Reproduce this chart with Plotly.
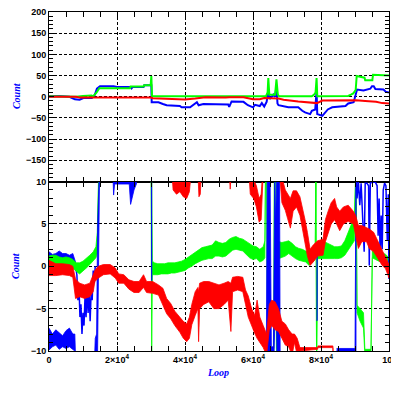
import plotly.graph_objects as go
from plotly.subplots import make_subplots

BLUE = "#0000FF"
GREEN = "#00FF00"
RED = "#FF0000"

# ---------------- top panel (Count, -200..200) ----------------
top_blue_loop = [0, 3000, 6000, 7600, 9000, 10100, 12600, 13500, 14100, 14500, 15000, 19000, 20000, 24000, 24300,
                 24600, 27800, 28000, 30100, 30200, 32200, 33500, 34600, 38500, 39000, 41500, 42500, 43500, 44000,
                 45400, 52700, 53000, 53700, 57200, 58500, 60000, 60600, 62000, 62600, 63300, 64000, 64500, 65000,
                 66000, 66500, 66900, 67200, 67500, 70400, 73300, 74500, 75300, 76800, 77300, 78300, 78700, 78900,
                 80400, 82000, 83300, 87200, 88000, 89600, 90300, 90600, 92500, 94500, 95000, 95500, 96000, 98400,
                 99000, 100000]
top_blue = [1, 2, 0, -6, -7, -3, -3, 5, 19, 22, 25, 25, 23, 23, 20,
            23, 23, 27, 27, -13, -13, -17, -20, -22, -25, -25, -18, -13, -20,
            -17, -18, -24, -11, -12, -20, -25, -19, -22, -15, -23, -12, 10, -5,
            5, 0, 26, -16, -20, -25, -25, -33, -37, -41, -33, -30, 14, -41,
            -45, -30, -25, -22, -16, -13, 14, 17, 15, 19, 25, 25, 18, 17,
            12, 10]

top_green_loop = [0, 5000, 8000, 10000, 12500, 13000, 14000, 14800, 23800, 24000, 27800, 28000, 29900, 30100, 30300,
                  63800, 64300, 64500, 64800, 66500, 66900, 67300, 67700, 77300, 78000, 78400, 78700, 78900, 88000,
                  88800, 89500, 90200, 90500, 92800, 93000, 95100, 95300, 100000]
top_green = [1, 1, 0, 2, 3, 1, 10, 20, 20, 24, 24, 27, 27, 49, 1,
             1, 10, 44, 5, 5, 41, 5, 1, 1, 5, 10, 44, 1, 2,
             5, 8, 16, 49, 45, 39, 39, 52, 50]

top_red_loop = [0, 8000, 9000, 15000, 20000, 25000, 30000, 30500, 35000, 40000, 43000, 46000, 52000, 53000, 57200,
                58500, 60000, 62000, 63300, 67500, 69000, 73300, 76000, 78800, 80400, 90300, 93000, 96200, 98000,
                100000]
top_red = [0, 0, -2, -2, -1.5, -2.5, -2, -3.5, -5, -6.5, -4, -1, -2, -1, -1,
           -4, -6, -6, -3, -4, -7, -11, -13, -15, -9, -8, -10, -12, -15,
           -16]

# ---------------- bottom panel (Count, -10..10): noisy bands (low / high envelope) ----------------
# blue, faint band near +1 at the start (drawn under green)
b3_loop = [0, 1000, 2000, 3000, 4000, 5000, 6000, 7000, 7800]
b3_lo = [0.7, 0.6, 0.5, 0.8, 0.6, 0.6, 0.6, 0.5, -0.5]
b3_hi = [1.7, 1.4, 1.5, 1.8, 1.5, 1.5, 1.3, 1.5, 0.5]
# blue strokes descending around 1e4
b3s_loop = [7800, 8200, 8500, 8800, 9100, 9400, 9700, 10000, 10300, 10600, 10900, 11200, 11500, 11800, 12100,
            12400, 12700, 13000, 13300, 13600]
b3s_val = [0, -1, -4, -2, -6, -4.5, -8, -5.5, -7, -3.5, -6, -2.5, -5.5, -3, -6.5, -3, -4, -0.5, -2, 0]

# main blue band
b1_loop = [0, 1000, 2000, 3000, 4000, 5000, 6000, 7000, 7600, 7900, 13300, 13600, 14000, 14300, 14600, 14900,
           18700, 18800, 19000, 19300, 23600, 24000, 24500, 25000, 25700, 26000, 30100, 30200, None,
           63900, 64200, 65000, 65200, 65400, 66000, 66200, 66400, 66600, 66900, 67100, 67800, 68000, None,
           78700, 78900, None,
           84600, 90000, 90300]
b1_lo = [-9.9, -9.5, -9.3, -9.8, -9.5, -9.7, -9.5, -9.8, -10, -12, -12, -10, -10, -10, 0, 12,
         12, 9.6, 8.4, 9.7, 9.7, 7.3, 8.0, 9.0, 9.7, 12, 12, -1.7, None,
         -12, -12, -12, -10, -10, -10, -10, -10, -4, -6, -12, -12, -12, None,
         -6.4, -6.4, None,
         -10, -10, -10]
b1_hi = [-7.3, -8.0, -7.5, -7.8, -8.2, -7.6, -7.3, -8.0, -8.0, -12, -12, -8.5, -8.0, 5, 12, 12.5,
         12.5, 10.2, 10.2, 10.2, 10.2, 10.2, 10.2, 10.2, 10.2, 12.5, 12.5, 12, None,
         -12, 12, 12, -4, -9.5, -9.5, 12, 12, 5, 8, 12, 12, -12, None,
         1.7, 1.7, None,
         -9.7, -9.7, 12]
# blue strokes near the top at the end
b2_loop = [90300, 90600, 91000, 91400, 91800, 92300, 92700, 93000, 93500, 94000, 94200, 94500, 95000, 95500,
           96000, 96500, 96800, 97100, 97400, 97700, 98000, 98300, 98700, 99100, 99500, 99800, 100000]
b2_val = [12, 8, 10, 7.2, 9.8, 6, 1.7, 9.8, 9.8, 9.5, 0.1, 9.8, 9.9, 9.9,
          9.9, 9.5, 3.6, 8, 1.0, 6, 2.0, 9.0, 9.8, 9.5, 3.0, 8.5, -1.5]

g1_loop = [0, 1000, 2000, 3000, 4000, 5000, 6000, 7000, 8000, 9000, 10000, 11000, 12000, 13000, 13800, 14200,
           14400, 14700, 30000, 30200, 30400, 31000, 32000, 33000, 34000, 35000, 36000, 37000, 38000, 39000,
           40000, 41000, 42000, 43000, 44000, 45000, 46000, 47000, 48000, 49000, 50000, 51000, 52000, 53000,
           54000, 55000, 56000, 57000, 58000, 59000, 60000, 61000, 62000, 63000, 63500, 63700, 64000, 64300,
           66100, 66300, 66700, 66900, 67400, 67600, 68500, 69500, 70500, 71500, 72500, 73500, 74500, 75500,
           76500, 77500, 78300, 78500, 78700, 79000, 80000, 81000, 82000, 83000, 84000, 85000, 86000, 87000,
           88000, 89000, 89800, 90300, 90600, 91500, 92500, 92900, 94700, 95100, 96000, 97000, 98000, 99000,
           100000]
g1_lo = [0.2, 0.3, 0.2, 0.1, 0.0, 0.0, 0.0, -0.2, -0.6, -0.9, -0.5, -0.2, 0.2, 0.6, 1.0, 1.5,
         3.0, 12, 12, -12, -1.0, -1.0, -1.0, -0.9, -0.9, -0.9, -0.8, -0.8, -0.7, -0.6,
         -0.5, -0.2, 0.0, 0.3, 0.5, 0.7, 0.8, 0.9, 0.9, 1.2, 1.2, 1.1, 1.2, 1.5,
         1.9, 2.0, 1.9, 1.8, 1.4, 1.0, 0.8, 0.9, 0.5, 0.7, 1.0, 12, 12, -10.5,
         -10.5, 12, 12, -10.5, -10.5, 0.9, 1.0, 1.2, 1.5, 1.2, 0.9, 0.7, 0.6, 0.5,
         0.1, 0.5, 0.8, 12, -12, 0.9, 0.9, 0.9, 0.9, 0.9, 0.9, 0.9, 1.0, 1.3,
         1.8, 2.5, 3.0, 12, -5.5, -6.5, -7.3, -10.5, -10.5, 1.0, 0.8, 0.6, 0.5, 0.2,
         -0.5]
g1_hi = [1.2, 1.3, 1.3, 1.1, 1.0, 1.1, 1.0, 0.8, 0.4, 0.4, 0.6, 0.9, 1.3, 1.7, 2.3, 4.0,
         7.6, 12.5, 12.5, 12, 0.6, 0.4, 0.3, 0.3, 0.3, 0.4, 0.4, 0.4, 0.5, 0.6,
         0.8, 1.1, 1.4, 1.7, 2.0, 2.2, 2.3, 2.4, 2.5, 3.0, 2.8, 2.7, 2.8, 3.2,
         3.4, 3.5, 3.3, 3.2, 2.9, 2.6, 2.4, 2.3, 2.0, 2.3, 3.0, 12.5, 12.5, -9.7,
         -9.7, 12.5, 12.5, -9.7, -9.7, 2.9, 2.8, 2.9, 3.0, 2.7, 2.3, 2.1, 2.0, 1.8,
         1.5, 1.8, 2.2, 12.5, -11.5, 2.6, 2.8, 2.9, 2.7, 2.5, 2.3, 2.3, 2.4, 3.0,
         4.0, 5.0, 5.8, 12.5, -4.6, -5.0, -5.5, -9.8, -9.8, 1.8, 1.7, 1.7, 1.6, 1.4,
         1.0]

r1_loop = [0, 2000, 4000, 6000, 7000, 7800, 9000, 10500, 12000, 13000, 13500, 14500, 16000, 18000, 19500,
           20500, 22000, 23500, 25000, 26500, 27800, 28700, 30500, 32200, 33500, 34600, 35800, 37000, 38500,
           39500, 40500, 41300, 42000, 43000, 43800, 44000, 44300, 45500, 47000, 48500, 50000, 51500, 52700,
           53500, 54000, 55500, 57000, 57800, 58600, 59600, 60500, 61200, 62000, 63000, 64000, 64800, 65500,
           66500, 67500, 68500, 69500, 70500, 71500, 72200, 73000, 73800, 79000, 79100, 83500, 83700]
r1_lo = [-1.1, -1.1, -1.0, -1.1, -1.3, -3.8, -3.6, -3.8, -3.6, -3.0, -1.8, -1.4, -1.0, -0.9, -1.4,
         -2.0, -2.0, -2.7, -3.1, -3.1, -2.5, -3.1, -3.2, -3.4, -4.6, -5.6, -6.2, -7.0, -7.8,
         -8.5, -8.9, -8.5, -6.9, -5.8, -5.0, -8.9, -5.0, -4.5, -4.2, -5.0, -5.0, -4.5, -4.0,
         -7.7, -3.0, -2.8, -3.0, -4.5, -6.0, -7.0, -7.9, -8.5, -9.0, -9.6, -10.5, -7.5, -7.0,
         -7.5, -7.7, -8.5, -9.3, -9.5, -10.5, -9.0, -10.5, -10.0, -9.8, -9.6, -9.6, -12]
r1_hi = [0.7, 0.3, 0.3, 0.2, 0.0, -1.5, -2.0, -2.2, -2.0, -1.0, -0.5, 0.0, 0.2, 0.2, -0.2,
         -0.9, -1.0, -1.6, -1.8, -1.8, -1.0, -1.8, -1.8, -2.2, -2.6, -3.8, -4.4, -5.3, -6.0,
         -6.5, -6.8, -6.0, -4.5, -3.0, -2.5, -3.0, -2.0, -1.8, -1.8, -2.0, -2.2, -2.0, -1.8,
         -2.0, -1.3, -1.2, -1.3, -2.8, -3.5, -5.0, -5.8, -4.0, -6.0, -7.0, -8.0, -4.5, -4.0,
         -4.2, -5.0, -6.5, -6.8, -7.5, -8.0, -8.0, -8.5, -9.6, -9.6, -9.4, -9.4, -12]

r2_loop = [36000, 36500, 37500, 38500, 39500, 40500, 41300, 41800, 43800, 44100, 44500, 44800, 53000, 53300,
           53600, 58800, 59200, 60200, 61000, 61800, 62400, 63000, 67800, 68500, 69500, 70200, 71000, 71800,
           72800, 73800, 74500, 75300, 76000, 76800, 77700, 79000, 80600, 81300, 82100, 83000, 84000, 84600,
           85500, 86600, 88000, 89500, 90200, 91000, 92000, 93400, 94200, 95500, 96800, 98000, 99000, 100000]
r2_lo = [12, 9.0, 8.5, 8.8, 8.2, 8.0, 8.8, 11, 11, 8.2, 8.5, 11, 11, 9.1,
         11, 11, 8.5, 8.0, 7.0, 5.2, 5.5, 11, 11, 7.5, 6.6, 5.6, 4.5, 6.5,
         7.0, 6.0, 4.5, 2.9, 1.2, 0.1, 0.5, 1.2, 1.3, 2.9, 4.0, 5.0, 5.5, 5.0,
         4.2, 5.0, 5.3, 5.0, 3.6, 2.1, 2.9, 2.9, 2.1, 1.7, 0.9, 0.1, -0.3, -1.4]
r2_hi = [12.5, 10.5, 10.5, 10.5, 10.0, 10.2, 10.5, 12, 12, 10.5, 10.5, 12, 12, 10.5,
         12, 12, 10.5, 10.2, 9.5, 8.0, 8.5, 12, 12, 10.5, 9.0, 8.6, 8.0, 8.9,
         8.9, 8.2, 7.0, 5.5, 4.0, 2.0, 2.5, 3.0, 3.2, 5.5, 6.5, 7.5, 8.0, 7.0,
         6.5, 7.0, 7.2, 6.5, 6.0, 4.8, 4.8, 4.6, 4.4, 4.0, 2.9, 1.7, 1.0, 0.2]

x_tickvals = [0, 20000, 40000, 60000, 80000, 100000]
x_ticktext = ["0", "2×10<sup>4</sup>", "4×10<sup>4</sup>", "6×10<sup>4</sup>", "8×10<sup>4</sup>", "10<sup>5</sup>"]
top_yticks = [-150, -100, -50, 0, 50, 100, 150, 200]
bot_yticks = [-10, -5, 0, 5, 10]


def band(xs, lo, hi):
    segs, cur = [], []
    for x, l, h in zip(xs, lo, hi):
        if x is None:
            if cur:
                segs.append(cur)
            cur = []
        else:
            cur.append((x, l, h))
    if cur:
        segs.append(cur)
    X, Y = [], []
    for s in segs:
        X += [p[0] for p in s] + [p[0] for p in reversed(s)] + [None]
        Y += [p[2] for p in s] + [p[1] for p in reversed(s)] + [None]
    return X, Y


fig = make_subplots(rows=2, cols=1, shared_xaxes=True, vertical_spacing=0)

# top panel
fig.add_trace(go.Scatter(x=top_blue_loop, y=top_blue, mode="lines", line=dict(color=BLUE, width=2)), row=1, col=1)
fig.add_trace(go.Scatter(x=top_green_loop, y=top_green, mode="lines", line=dict(color=GREEN, width=2)), row=1, col=1)
fig.add_trace(go.Scatter(x=top_red_loop, y=top_red, mode="lines", line=dict(color=RED, width=2)), row=1, col=1)


def add_band(xs, lo, hi, color):
    X, Y = band(xs, lo, hi)
    fig.add_trace(go.Scatter(x=X, y=Y, mode="lines", fill="toself", fillcolor=color,
                             line=dict(color=color, width=0.8)), row=2, col=1)


add_band(b3_loop, b3_lo, b3_hi, BLUE)
fig.add_trace(go.Scatter(x=b3s_loop, y=b3s_val, mode="lines", line=dict(color=BLUE, width=1.5)), row=2, col=1)
add_band(g1_loop, g1_lo, g1_hi, GREEN)
add_band(b1_loop, b1_lo, b1_hi, BLUE)
fig.add_trace(go.Scatter(x=b2_loop, y=b2_val, mode="lines", line=dict(color=BLUE, width=1.5)), row=2, col=1)
add_band(r1_loop, r1_lo, r1_hi, RED)
add_band(r2_loop, r2_lo, r2_hi, RED)

tickfont = dict(family="Liberation Sans", size=9, color="black", weight="bold")
common_x = dict(range=[0, 100000], tickvals=x_tickvals, ticktext=x_ticktext, showline=True, linecolor="black",
                linewidth=1, mirror="allticks", ticks="inside", ticklen=5, tickcolor="black",
                showgrid=True, gridcolor="black", gridwidth=1, griddash="3px,2px", zeroline=False,
                minor=dict(dtick=5000, ticks="inside", ticklen=5, tickcolor="black", showgrid=False),
                tickfont=tickfont, automargin=False, ticklabeloverflow="allow")
fig.update_xaxes(**common_x)
fig.update_xaxes(showticklabels=False, row=1, col=1)

common_y = dict(showline=True, linecolor="black", linewidth=1, mirror="allticks", ticks="inside", ticklen=5,
                tickcolor="black", showgrid=True, gridcolor="black", gridwidth=1, griddash="3px,2px",
                zeroline=False, tickfont=tickfont, automargin=False, ticklabeloverflow="allow")
fig.update_yaxes(range=[-200, 200], tickvals=top_yticks,
                 minor=dict(dtick=10, ticks="inside", ticklen=4, tickcolor="black", showgrid=False),
                 row=1, col=1, **common_y)
fig.update_yaxes(range=[-10, 10], tickvals=bot_yticks,
                 minor=dict(dtick=1, ticks="inside", ticklen=4, tickcolor="black", showgrid=False),
                 row=2, col=1, **common_y)

labfont = dict(family="Liberation Serif", size=10, color=BLUE, weight="bold", style="italic")
fig.add_annotation(text="Count", xref="paper", yref="paper", x=-0.097, y=0.752, textangle=-90,
                   showarrow=False, font=labfont, xanchor="center", yanchor="middle")
fig.add_annotation(text="Count", xref="paper", yref="paper", x=-0.097, y=0.251, textangle=-90,
                   showarrow=False, font=labfont, xanchor="center", yanchor="middle")
fig.add_annotation(text="Loop", xref="paper", yref="paper", x=0.497, y=-0.062,
                   showarrow=False, font=labfont, xanchor="center", yanchor="middle")

# the page body adds an 8px offset, so the margins are shifted to keep the plot area at the reference position
fig.update_layout(width=399, height=399, margin=dict(l=41, r=18, t=4, b=56, autoexpand=False),
                  showlegend=False, plot_bgcolor="white", paper_bgcolor="white", hovermode=False)

fig.write_html("out.html")
